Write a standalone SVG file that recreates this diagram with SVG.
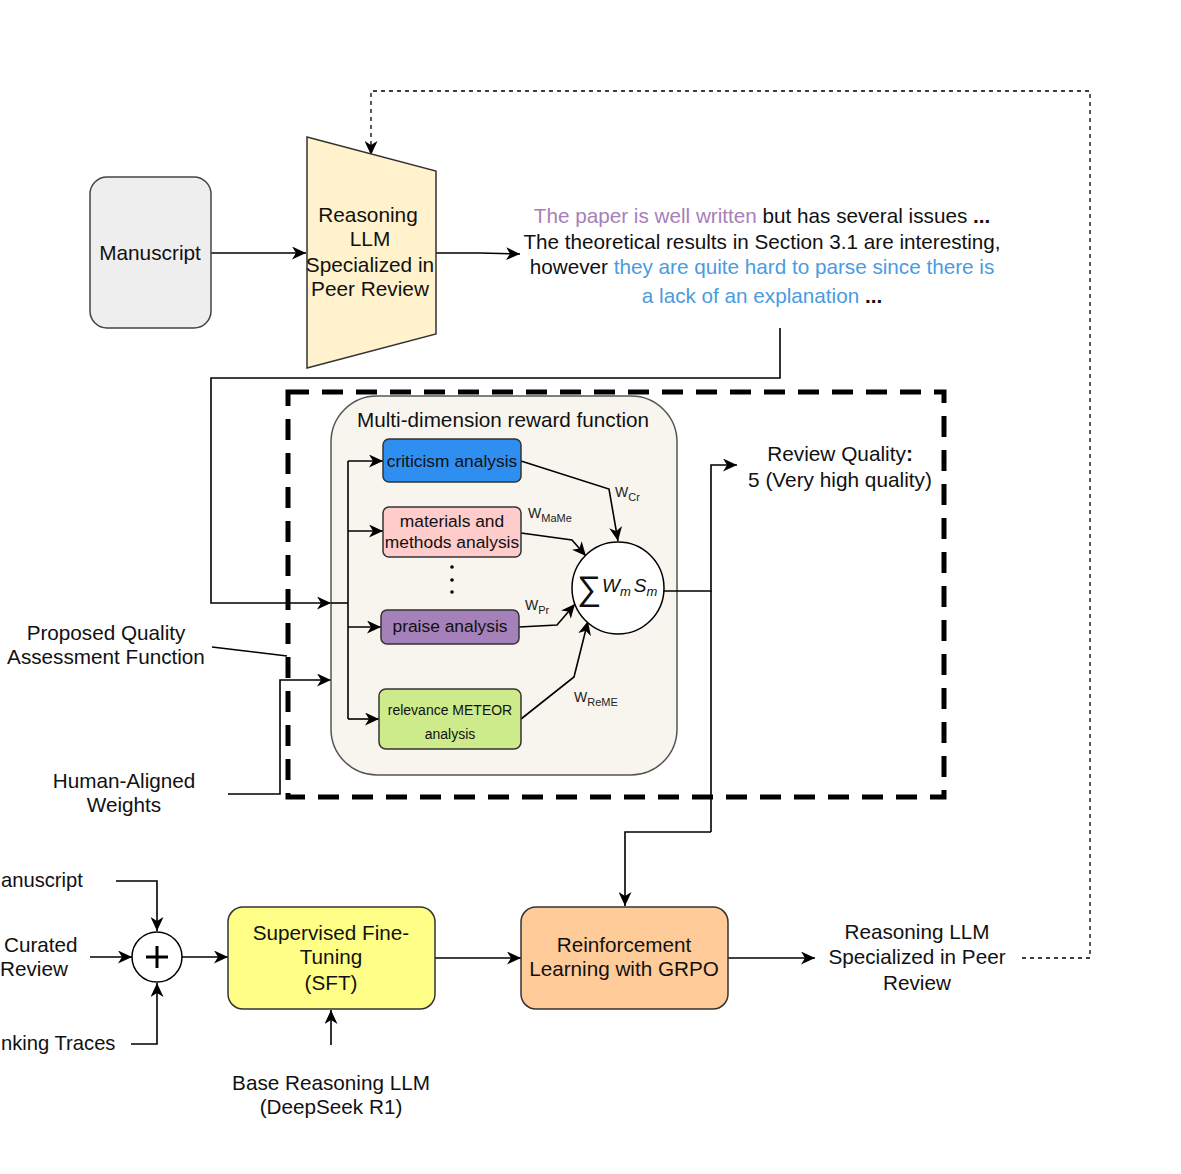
<svg xmlns="http://www.w3.org/2000/svg" width="1181" height="1174" viewBox="0 0 1181 1174">
<style>
text{font-family:"Liberation Sans",Arial,sans-serif;fill:#111;}
.t20{font-size:20.8px;}
.t19{font-size:20.7px;}
.c{text-anchor:middle;}
.conn{fill:none;stroke:#000;stroke-width:1.6;}
.dash{fill:none;stroke:#000;stroke-width:1.3;stroke-dasharray:4 4;}
.box{stroke:#333;stroke-width:1.5;}
.w{font-size:14px;fill:#222;}
.sub{font-size:11px;}
.purple{fill:#a680b8;}
.blue{fill:#4a9be0;}
</style>
<defs>
<marker id="arr" markerUnits="userSpaceOnUse" markerWidth="15" markerHeight="13" refX="14" refY="6.5" orient="auto">
<path d="M0,0 L14,6.5 L0,13 L4,6.5 z" fill="#000"/>
</marker>
</defs>
<rect width="1181" height="1174" fill="#fff"/>

<g id="connectors">
<path class="dash" d="M1022,958 H1090 V91 H371 V155" marker-end="url(#arr)"/>
<path class="conn" d="M211,253 H306" marker-end="url(#arr)"/>
<path class="conn" d="M436,253 H480 L520,254" marker-end="url(#arr)"/>
<path class="conn" d="M780,328 V378 H211 V603 H331" marker-end="url(#arr)"/>
<path class="conn" d="M212,647 L287,656"/>
<path class="conn" d="M228,794 H280 V680 H331" marker-end="url(#arr)"/>
<path class="conn" d="M116,881 H157 V931" marker-end="url(#arr)"/>
<path class="conn" d="M90,957 H132" marker-end="url(#arr)"/>
<path class="conn" d="M131,1044 H157 V983" marker-end="url(#arr)"/>
<path class="conn" d="M182,957 H228" marker-end="url(#arr)"/>
<path class="conn" d="M331,1045 V1010" marker-end="url(#arr)"/>
<path class="conn" d="M435,958 H521" marker-end="url(#arr)"/>
<path class="conn" d="M728,958 H815" marker-end="url(#arr)"/>
<path class="conn" d="M711,832 H625 V906" marker-end="url(#arr)"/>
</g>

<g id="quality-function">
<rect x="288" y="392" width="656" height="405" fill="none" stroke="#000" stroke-width="5" stroke-dasharray="21 13"/>
</g>

<g id="reward-function">
<rect x="331" y="396" width="346" height="379" rx="46" fill="#f7f5ee" stroke="#555" stroke-width="1.5"/>
<text class="t19 c" x="503" y="427">Multi-dimension reward function</text>
</g>

<g id="internal-connectors">
<path class="conn" d="M331,603 H348"/>
<path class="conn" d="M348,461 V719"/>
<path class="conn" d="M348,461 H383" marker-end="url(#arr)"/>
<path class="conn" d="M348,531 H383" marker-end="url(#arr)"/>
<path class="conn" d="M348,627 H381" marker-end="url(#arr)"/>
<path class="conn" d="M348,719 H379" marker-end="url(#arr)"/>
<path class="conn" d="M521,461 L609,489 L618,541" marker-end="url(#arr)"/>
<path class="conn" d="M521,533 L572,540 L586,556" marker-end="url(#arr)"/>
<path class="conn" d="M519,627 L557,625 L575,604" marker-end="url(#arr)"/>
<path class="conn" d="M521,719 L574,677 L588,621" marker-end="url(#arr)"/>
<path class="conn" d="M664,591 H711 V465 H737" marker-end="url(#arr)"/>
<path class="conn" d="M711,591 V832"/>
</g>

<g id="manuscript">
<rect x="90" y="177" width="121" height="151" rx="17" fill="#eeeeee" stroke="#444" stroke-width="1.5"/>
<text class="t20 c" x="150" y="260">Manuscript</text>
</g>

<g id="reasoning-llm">
<polygon points="307,137 436,171 436,334 307,368" fill="#fff2cc" class="box"/>
<text class="t20 c" x="368" y="222">Reasoning</text>
<text class="t20 c" x="370" y="246">LLM</text>
<text class="t20 c" x="370" y="272">Specialized in</text>
<text class="t20 c" x="370" y="296">Peer Review</text>
</g>

<g id="review-text">
<text class="t19 c" x="762" y="223"><tspan class="purple">The paper is well written</tspan> but has several issues <tspan font-weight="bold">...</tspan></text>
<text class="t19 c" x="762" y="249">The theoretical results in Section 3.1 are interesting,</text>
<text class="t19 c" x="762" y="274">however <tspan class="blue">they are quite hard to parse since there is</tspan></text>
<text class="t19 c" x="762" y="303"><tspan class="blue">a lack of an explanation</tspan> <tspan font-weight="bold">...</tspan></text>
</g>

<g id="criticism">
<rect x="383" y="439" width="138" height="43" rx="6" fill="#2f8ff0" class="box"/>
<text class="c" font-size="17.4" x="452" y="467">criticism analysis</text>
</g>
<g id="materials">
<rect x="383" y="507" width="138" height="50" rx="6" fill="#ffcccc" class="box"/>
<text class="c" font-size="17.4" x="452" y="527">materials and</text>
<text class="c" font-size="17.4" x="452" y="548">methods analysis</text>
</g>
<g id="dots">
<circle cx="452" cy="567" r="1.8" fill="#000"/>
<circle cx="452" cy="580" r="1.8" fill="#000"/>
<circle cx="452" cy="592" r="1.8" fill="#000"/>
</g>
<g id="praise">
<rect x="381" y="610" width="138" height="34" rx="6" fill="#a680b8" class="box"/>
<text class="c" font-size="17.4" x="450" y="632">praise analysis</text>
</g>
<g id="relevance">
<rect x="379" y="689" width="142" height="60" rx="7" fill="#cdeb8b" class="box"/>
<text class="c" font-size="14" x="450" y="715">relevance METEOR</text>
<text class="c" font-size="14" x="450" y="739">analysis</text>
</g>

<g id="weights">
<text class="w" x="615" y="497">W<tspan class="sub" dy="4">Cr</tspan></text>
<text class="w" x="528" y="518">W<tspan class="sub" dy="4">MaMe</tspan></text>
<text class="w" x="525" y="610">W<tspan class="sub" dy="4">Pr</tspan></text>
<text class="w" x="574" y="702">W<tspan class="sub" dy="4">ReME</tspan></text>
</g>

<g id="sum">
<circle cx="618" cy="588" r="46" fill="#fff" stroke="#000" stroke-width="1.5"/>
<text x="577" y="600" font-family="'Liberation Serif','DejaVu Serif',serif" font-size="34">∑</text>
<text x="602" y="592" font-family="'Liberation Serif','DejaVu Serif',serif" font-size="19" font-style="italic">W<tspan font-size="13" dy="4">m</tspan><tspan dy="-4" dx="3">S</tspan><tspan font-size="13" dy="4">m</tspan></text>
</g>

<g id="review-quality">
<text class="t20 c" x="840" y="461">Review Quality<tspan font-weight="bold">:</tspan></text>
<text class="t20 c" x="840" y="487">5 (Very high quality)</text>
</g>

<g id="proposed-label">
<text class="t19 c" x="106" y="640">Proposed Quality</text>
<text class="t19 c" x="106" y="664">Assessment Function</text>
</g>
<g id="human-weights">
<text class="t19 c" x="124" y="788">Human-Aligned</text>
<text class="t19 c" x="124" y="812">Weights</text>
</g>

<g id="inputs">
<text font-size="20.2" x="1" y="887">anuscript</text>
<text class="t19" x="4" y="952">Curated</text>
<text class="t19" x="0" y="976">Review</text>
<text font-size="20.2" x="1" y="1050">nking Traces</text>
</g>

<g id="plus">
<circle cx="157" cy="957" r="25" fill="#fff" stroke="#000" stroke-width="1.5"/>
<path d="M146,957 H168 M157,946 V968" stroke="#000" stroke-width="3"/>
</g>

<g id="sft">
<rect x="228" y="907" width="207" height="102" rx="15" fill="#ffff88" class="box"/>
<text class="t19 c" x="331" y="940">Supervised Fine-</text>
<text class="t19 c" x="331" y="964">Tuning</text>
<text class="t19 c" x="331" y="990">(SFT)</text>
</g>
<g id="base-llm">
<text class="t19 c" x="331" y="1090">Base Reasoning LLM</text>
<text class="t19 c" x="331" y="1114">(DeepSeek R1)</text>
</g>
<g id="rl">
<rect x="521" y="907" width="207" height="102" rx="15" fill="#ffcc99" class="box"/>
<text class="t19 c" x="624" y="952">Reinforcement</text>
<text class="t19 c" x="624" y="976">Learning with GRPO</text>
</g>
<g id="output-llm">
<text class="t19 c" x="917" y="939">Reasoning LLM</text>
<text class="t19 c" x="917" y="964">Specialized in Peer</text>
<text class="t19 c" x="917" y="990">Review</text>
</g>
</svg>
